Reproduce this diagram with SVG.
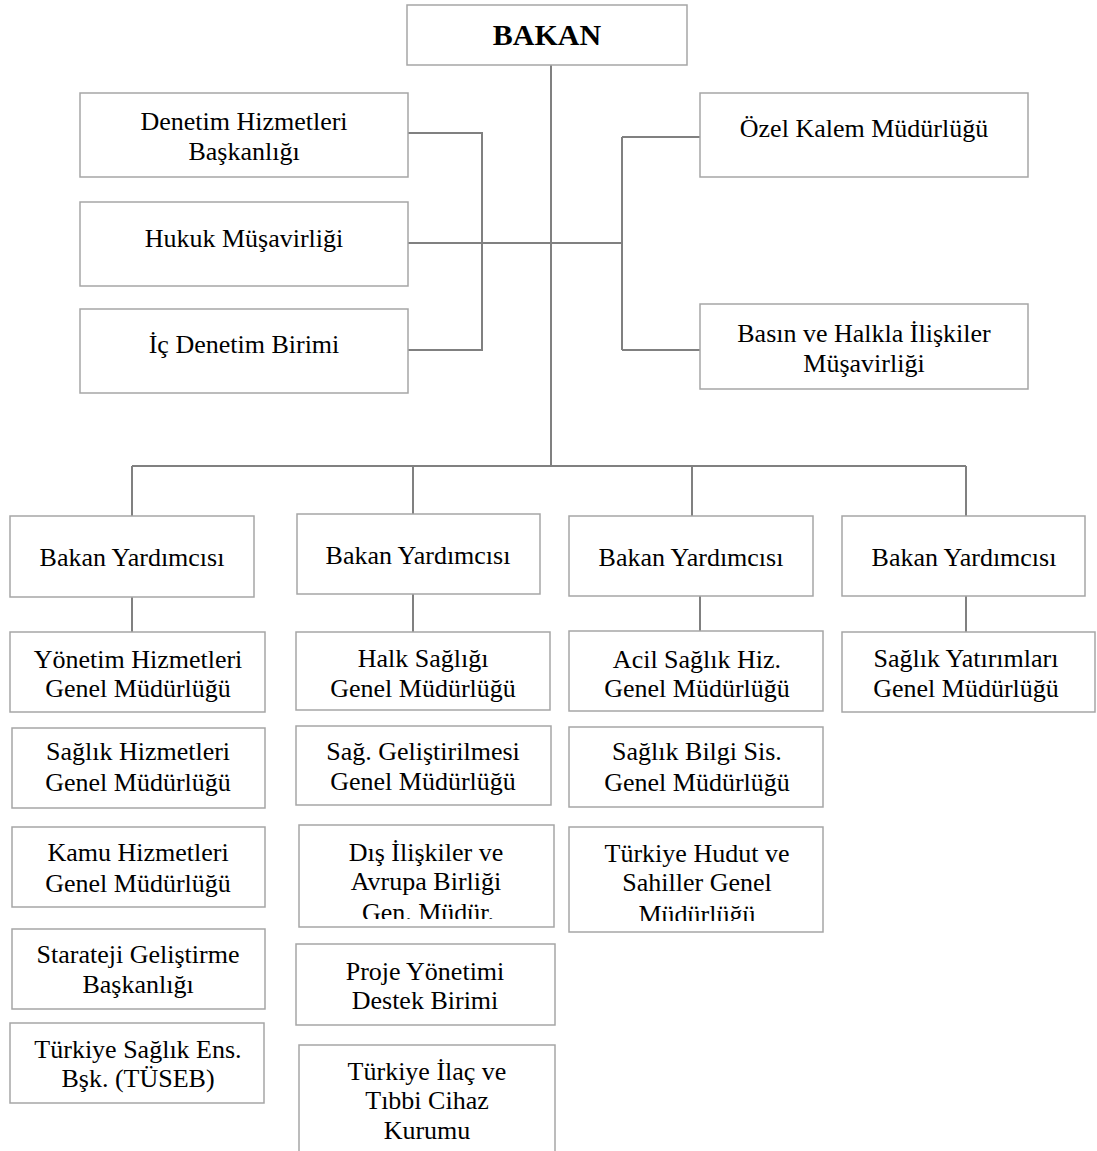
<svg xmlns="http://www.w3.org/2000/svg" width="1097" height="1151" viewBox="0 0 1097 1151">
<style>
.box{fill:#fff;stroke:#a6a6a6;stroke-width:1.5}
.t{font-family:"Liberation Serif","Times New Roman",serif;font-size:26px;fill:#000;text-anchor:middle}
.b{font-weight:bold;font-size:30px}
.c{fill:none;stroke:#808080;stroke-width:2}
</style>
<defs>
<clipPath id="clipDis"><rect x="299" y="825" width="255" height="94"/></clipPath>
<clipPath id="clipHudut"><rect x="569" y="827" width="254" height="94"/></clipPath>
</defs>
<rect width="1097" height="1151" fill="#fff"/>
<g id="connectors">
<path class="c" d="M551 65V466"/>
<path class="c" d="M408 133H482V350H408M408 243H622M622 137V350M622 137H700M622 350H700"/>
<path class="c" d="M132 466H966M132 466V516M413 466V514M692 466V516M966 466V516"/>
<path class="c" d="M132 597V632M413 594V632M700 596V631M966 596V632"/>
</g>
<g id="bakan"><rect class="box" x="407" y="5" width="280" height="60"/><text class="t b" x="547" y="45">BAKAN</text></g>
<g id="denetim"><rect class="box" x="80" y="93" width="328" height="84"/><text class="t" x="244" y="130">Denetim Hizmetleri</text><text class="t" x="244" y="160">Başkanlığı</text></g>
<g id="hukuk"><rect class="box" x="80" y="202" width="328" height="84"/><text class="t" x="244" y="247">Hukuk Müşavirliği</text></g>
<g id="icdenetim"><rect class="box" x="80" y="309" width="328" height="84"/><text class="t" x="244" y="353">İç Denetim Birimi</text></g>
<g id="ozelkalem"><rect class="box" x="700" y="93" width="328" height="84"/><text class="t" x="864" y="137">Özel Kalem Müdürlüğü</text></g>
<g id="basin"><rect class="box" x="700" y="304" width="328" height="85"/><text class="t" x="864" y="342">Basın ve Halkla İlişkiler</text><text class="t" x="864" y="372">Müşavirliği</text></g>
<g id="yard1"><rect class="box" x="10" y="516" width="244" height="81"/><text class="t" x="132" y="566">Bakan Yardımcısı</text></g>
<g id="yard2"><rect class="box" x="297" y="514" width="243" height="80"/><text class="t" x="418" y="564">Bakan Yardımcısı</text></g>
<g id="yard3"><rect class="box" x="569" y="516" width="244" height="80"/><text class="t" x="691" y="566">Bakan Yardımcısı</text></g>
<g id="yard4"><rect class="box" x="842" y="516" width="243" height="80"/><text class="t" x="964" y="566">Bakan Yardımcısı</text></g>
<g id="yonetim"><rect class="box" x="10" y="632" width="255" height="80"/><text class="t" x="138" y="668">Yönetim Hizmetleri</text><text class="t" x="138" y="697">Genel Müdürlüğü</text></g>
<g id="saglikhiz"><rect class="box" x="12" y="728" width="253" height="80"/><text class="t" x="138" y="760">Sağlık Hizmetleri</text><text class="t" x="138" y="791">Genel Müdürlüğü</text></g>
<g id="kamu"><rect class="box" x="12" y="827" width="253" height="80"/><text class="t" x="138" y="861">Kamu Hizmetleri</text><text class="t" x="138" y="892">Genel Müdürlüğü</text></g>
<g id="strateji"><rect class="box" x="12" y="929" width="253" height="80"/><text class="t" x="138" y="963">Starateji Geliştirme</text><text class="t" x="138" y="993">Başkanlığı</text></g>
<g id="tuseb"><rect class="box" x="10" y="1023" width="254" height="80"/><text class="t" x="138" y="1058">Türkiye Sağlık Ens.</text><text class="t" x="138" y="1087">Bşk. (TÜSEB)</text></g>
<g id="halk"><rect class="box" x="296" y="632" width="254" height="78"/><text class="t" x="423" y="667">Halk Sağlığı</text><text class="t" x="423" y="697">Genel Müdürlüğü</text></g>
<g id="saggel"><rect class="box" x="296" y="726" width="255" height="79"/><text class="t" x="423" y="760">Sağ. Geliştirilmesi</text><text class="t" x="423" y="790">Genel Müdürlüğü</text></g>
<g id="dis"><rect class="box" x="299" y="825" width="255" height="102"/><g clip-path="url(#clipDis)"><text class="t" x="426" y="861">Dış İlişkiler ve</text><text class="t" x="426" y="890">Avrupa Birliği</text><text class="t" x="428" y="921">Gen. Müdür.</text></g></g>
<g id="proje"><rect class="box" x="296" y="944" width="259" height="81"/><text class="t" x="425" y="980">Proje Yönetimi</text><text class="t" x="425" y="1009">Destek Birimi</text></g>
<g id="ilac"><rect class="box" x="299" y="1045" width="256" height="115"/><text class="t" x="427" y="1080">Türkiye İlaç ve</text><text class="t" x="427" y="1109">Tıbbi Cihaz</text><text class="t" x="427" y="1139">Kurumu</text></g>
<g id="acil"><rect class="box" x="569" y="631" width="254" height="80"/><text class="t" x="697" y="668">Acil Sağlık Hiz.</text><text class="t" x="697" y="697">Genel Müdürlüğü</text></g>
<g id="bilgi"><rect class="box" x="569" y="727" width="254" height="80"/><text class="t" x="697" y="760">Sağlık Bilgi Sis.</text><text class="t" x="697" y="791">Genel Müdürlüğü</text></g>
<g id="hudut"><rect class="box" x="569" y="827" width="254" height="105"/><g clip-path="url(#clipHudut)"><text class="t" x="697" y="862">Türkiye Hudut ve</text><text class="t" x="697" y="891">Sahiller Genel</text><text class="t" x="697" y="923">Müdürlüğü</text></g></g>
<g id="yatirim"><rect class="box" x="842" y="632" width="253" height="80"/><text class="t" x="966" y="667">Sağlık Yatırımları</text><text class="t" x="966" y="697">Genel Müdürlüğü</text></g>
</svg>
